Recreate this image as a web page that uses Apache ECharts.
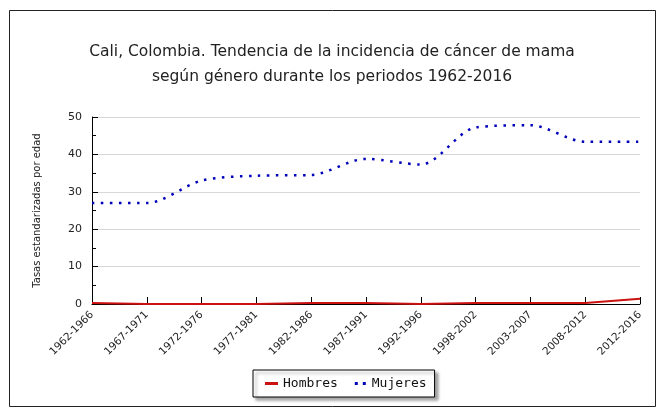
<!DOCTYPE html>
<html><head><meta charset="utf-8">
<script src="https://cdn.jsdelivr.net/npm/echarts@6/dist/echarts.min.js"></script>
<style>html,body{margin:0;padding:0;background:#fff}#c{width:664px;height:410px}</style>
</head><body><div id="c"></div>
<script>
var categories = ['1962-1966','1967-1971','1972-1976','1977-1981','1982-1986','1987-1991','1992-1996','1998-2002','2003-2007','2008-2012','2012-2016'];
var hombres = [0.3, 0, 0, 0, 0.3, 0.3, 0, 0.3, 0.3, 0.3, 1.4];
var mujeres = [27.0, 27.0, 33.0, 34.3, 34.5, 38.8, 37.3, 47.2, 47.8, 43.4, 43.4];
var yTicks = [0, 10, 20, 30, 40, 50];

var chart = echarts.init(document.getElementById('c'), null, {renderer:'canvas'});
chart.setOption({
  animation: false,
  backgroundColor: '#fff',
  graphic: [{type:'rect', shape:{x:9.5,y:10.5,width:646,height:396}, style:{fill:'none',stroke:'#222',lineWidth:1}, silent:true}],
  title: {
    text: 'Cali, Colombia. Tendencia de la incidencia de cáncer de mama\nsegún género durante los periodos 1962-2016',
    left: 'center', top: 34,
    textStyle: {fontFamily:'DejaVu Sans', fontWeight:'normal', fontSize:15.5, color:'#222', lineHeight:25}
  },
  legend: {
    top: 370, left: 253,
    data: [
      {name:'Hombres', icon:'rect'},
      {name:'Mujeres', icon:'path://M0,0h3v3h-3z M8,0h3v3h-3z'}
    ],
    itemWidth: 13, itemHeight: 3, itemGap: 17,
    padding: [7, 8, 7, 12],
    borderColor: '#000', borderWidth: 1, backgroundColor: '#fff',
    shadowColor: 'rgba(0,0,0,0.35)', shadowBlur: 3, shadowOffsetX: 3, shadowOffsetY: 3,
    textStyle: {fontFamily:'DejaVu Sans Mono', fontSize:13, color:'#111'}
  },
  grid: {left: 92, right: 24, top: 117, bottom: 106, containLabel: false},
  xAxis: {
    type: 'category', data: categories, boundaryGap: false,
    axisLine: {lineStyle:{color:'#000', width:1}},
    axisTick: {inside:true, length:7, lineStyle:{color:'#000'}},
    axisLabel: {rotate: 45, fontFamily:'DejaVu Sans', fontSize:10.5, color:'#222', margin:9},
    splitLine: {show:false}
  },
  yAxis: {
    type: 'value', min: yTicks[0], max: yTicks[yTicks.length-1], interval: 10,
    name: 'Tasas estandarizadas por edad', nameLocation: 'middle', nameGap: 50, nameRotate: 90,
    nameTextStyle: {fontFamily:'DejaVu Sans', fontSize:10, color:'#222'},
    axisLine: {show:true, lineStyle:{color:'#000', width:1}},
    axisTick: {show:true, inside:true, length:6, lineStyle:{color:'#000'}},
    minorTick: {show:true, splitNumber:2, length:4, lineStyle:{color:'#000'}},
    axisLabel: {fontFamily:'DejaVu Sans', fontSize:11, color:'#222', margin:10},
    splitLine: {show:true, lineStyle:{color:'#d8d8d8', width:1}}
  },
  series: [
    {name:'Hombres', type:'line', data:hombres, showSymbol:false, symbol:'none', smooth:false,
     lineStyle:{color:'#cc1111', width:2}, itemStyle:{color:'#cc1111'}, z:3},
    {name:'Mujeres', type:'line', data:mujeres, showSymbol:false, symbol:'none', smooth:0.3,
     lineStyle:{color:'#0000bb', width:2.5, type:[2.5,6.5]}, itemStyle:{color:'#0000bb'}, z:4}
  ]
});
</script></body></html>
